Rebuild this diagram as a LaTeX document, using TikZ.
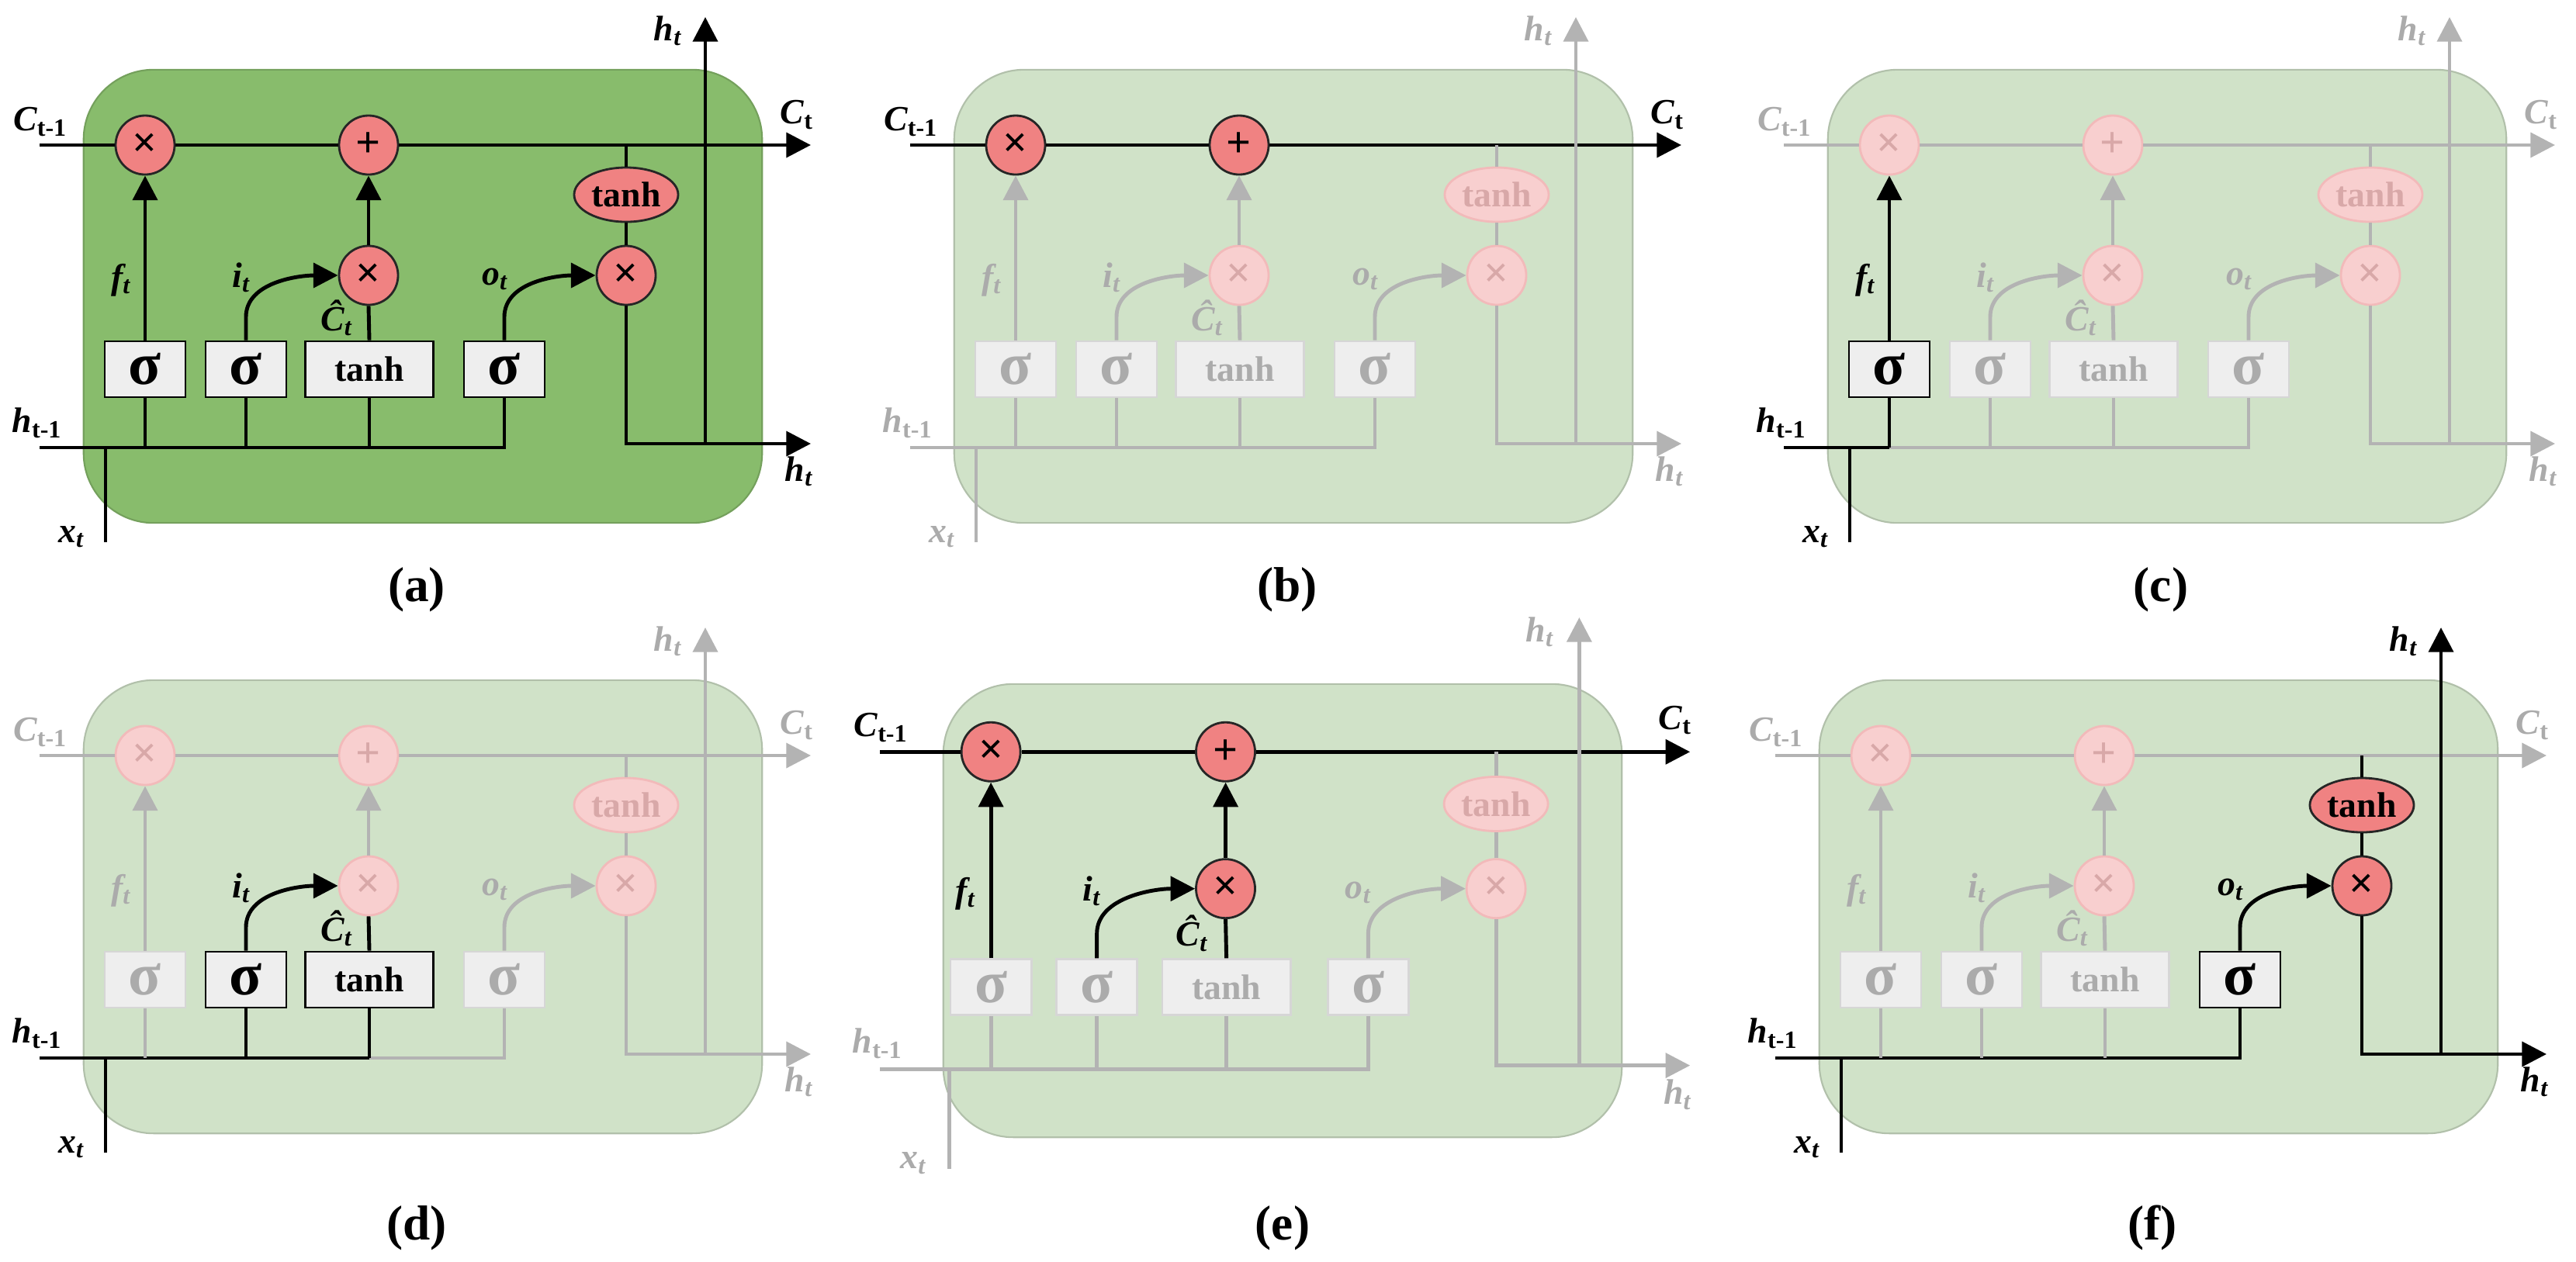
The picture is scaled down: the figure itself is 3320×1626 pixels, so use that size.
\documentclass[tikz,border=0pt]{standalone}
\usepackage{fontspec}
\setmainfont{Liberation Serif}
\usetikzlibrary{arrows.meta,shapes.geometric}
\definecolor{darkbg}{HTML}{88BC6C}
\definecolor{lightbg}{HTML}{D0E2C8}
\definecolor{redc}{HTML}{F08282}
\definecolor{pinkc}{HTML}{F8CFCF}
\definecolor{pinkd}{HTML}{F2BABA}
\definecolor{pinkt}{HTML}{D8A8A8}
\definecolor{fadeg}{HTML}{B3B3B3}
\definecolor{fadet}{HTML}{ABABAB}
\definecolor{boxf}{HTML}{EEEEEE}
\definecolor{boxd}{HTML}{D6D6D6}
\tikzset{
 st/.code 2 args={\ifnum\csname on@#1\endcsname=1 \pgfkeysalso{#2on}\else\pgfkeysalso{#2off}\fi},
 lon/.style={draw=black}, loff/.style={draw=fadeg},
 ton/.style={text=black}, toff/.style={text=fadet},
 con/.style={fill=redc,draw=black!85,text=black}, coff/.style={fill=pinkc,draw=pinkd,text=pinkt},
 bon/.style={fill=boxf,draw=black,text=black}, boff/.style={fill=boxf,draw=boxd,text=fadet},
 ln/.style={line width=1.4pt},
 arr/.style={-{Triangle[length=9pt,width=9pt]}},
 circ/.style={circle,minimum size=0.76cm,inner sep=0pt,line width=0.8pt,font=\fontsize{16}{16}\selectfont\bfseries},
 ell/.style={ellipse,minimum width=1.34cm,minimum height=0.7cm,inner sep=0pt,line width=0.8pt,font=\fontsize{13}{13}\selectfont\bfseries},
 box/.style={rectangle,minimum width=1.04cm,minimum height=0.72cm,inner sep=0pt,line width=0.8pt,font=\fontsize{22}{22}\selectfont\bfseries},
 tbox/.style={box,minimum width=1.65cm,font=\fontsize{13}{13}\selectfont\bfseries},
 lab/.style={inner sep=0pt,font=\fontsize{13}{13}\selectfont\bfseries},
 plab/.style={inner sep=0pt,font=\fontsize{18}{18}\selectfont\bfseries},
}
\newcommand\setact[1]{%
 \foreach \e in {C,mf,ma,fa,s1,s2,th,s3,ia,mi,ca,up,oa,mo,te,ho,h1,h2,h3,h4}{\expandafter\gdef\csname on@\e\endcsname{0}}%
 \foreach \e in {#1}{\expandafter\gdef\csname on@\e\endcsname{1}}}
\newcommand\panel[3]{%
\setact{#3}%
\begin{scope}[#1]
 \node[rectangle,rounded corners=0.9cm,minimum width=8.74cm,minimum height=5.84cm,fill=#2,draw=#2!85!black,line width=0.6pt] (bg) at (545,382) {};
 \coordinate (cl) at (51,187); \coordinate (cr) at (1045,187);
 \coordinate (hl) at (51,577); \coordinate (j1) at (187,577); \coordinate (j2) at (317,577);
 \coordinate (j3) at (476,577); \coordinate (j4) at (650,577);
 \coordinate (xb) at (136,699); \coordinate (xj) at (136,577);
 \coordinate (ct) at (807,187); \coordinate (hb) at (807,572); \coordinate (hv) at (909,572);
 \coordinate (hr) at (1045,572); \coordinate (ht) at (909,22);
 \node[circ,st={mf}{c}] (mf) at (187,187) {×};
 \node[circ,st={ma}{c}] (ma) at (475,187) {+};
 \node[circ,st={mi}{c}] (mi) at (475,355) {×};
 \node[circ,st={mo}{c}] (mo) at (807,355) {×};
 \node[ell,st={te}{c}] (te) at (807,251) {tanh};
 \node[box,st={s1}{b}] (s1) at (187,476) {σ};
 \node[box,st={s2}{b}] (s2) at (317,476) {σ};
 \node[tbox,st={th}{b}] (th) at (476,476) {tanh};
 \node[box,st={s3}{b}] (s3) at (650,476) {σ};
 % cell state
 \draw[ln,st={C}{l}] (cl) -- (mf.west);
 \draw[ln,st={C}{l}] (mf.east) -- (ma.west);
 \draw[ln,arr,st={C}{l}] (ma.east) -- (cr);
 % hidden input
 \draw[ln,st={h1}{l}] (hl) -- (j1);
 \draw[ln,st={h1}{l}] (xb) -- (xj);
 \draw[ln,st={h2}{l}] (j1) -- (j2);
 \draw[ln,st={h3}{l}] (j2) -- (j3);
 \draw[ln,st={h4}{l}] (j3) -- (j4) -- (s3.south);
 \draw[ln,st={s1}{l}] (s1.south) -- (j1);
 \draw[ln,st={s2}{l}] (s2.south) -- (j2);
 \draw[ln,st={th}{l}] (th.south) -- (j3);
 % gates
 \draw[ln,arr,st={fa}{l}] (s1.north) -- (mf.south);
 \draw[ln,st={ca}{l}] (th.north) -- (mi.south);
 \draw[ln,arr,st={up}{l}] (mi.north) -- (ma.south);
 \draw[ln,arr,st={ia}{l}] (s2.north) -- ++(0,-30) .. controls +(0,-45) and +(-50,0) .. (mi.west);
 \draw[ln,arr,st={oa}{l}] (s3.north) -- ++(0,-30) .. controls +(0,-45) and +(-50,0) .. (mo.west);
 \draw[ln,st={te}{l}] (mo.north) -- (te.south);
 \draw[ln,st={te}{l}] (te.north) -- (ct);
 % output
 \draw[ln,st={ho}{l}] (mo.south) -- (hb) -- (hv);
 \draw[ln,arr,st={ho}{l}] (hv) -- (hr);
 \draw[ln,arr,st={ho}{l}] (hv) -- (ht);
 % labels
 \node[lab,st={C}{t}] (lc) at (52,157) {\textit{C}\textsubscript{t-1}};
 \node[lab,st={C}{t}] (lcr) at (1027,148) {\textit{C}\textsubscript{t}};
 \node[lab,st={h1}{t}] (lh) at (48,545) {\textit{h}\textsubscript{t-1}};
 \node[lab,st={h1}{t}] (lx) at (92,692) {\textit{x\textsubscript{t}}};
 \node[lab,st={fa}{t}] (lf) at (156,361) {\textit{f\textsubscript{t}}};
 \node[lab,st={ia}{t}] (li) at (311,358) {\textit{i\textsubscript{t}}};
 \node[lab,st={oa}{t}] (lo) at (638,360) {\textit{o\textsubscript{t}}};
 \node[lab,st={ca}{t}] (lct) at (434,410) {\textit{Ĉ\textsubscript{t}}};
 \node[lab,st={ho}{t}] (lht) at (861,40) {\textit{h\textsubscript{t}}};
 \node[lab,st={ho}{t}] (lhr) at (1030,608) {\textit{h\textsubscript{t}}};
\end{scope}}
\begin{document}
\begin{tikzpicture}[x=0.01cm,y=-0.01cm]
\useasboundingbox[fill=white] (0,0) rectangle (3320,1626);
\panel{}{darkbg}{C,mf,ma,fa,s1,s2,th,s3,ia,mi,ca,up,oa,mo,te,ho,h1,h2,h3,h4}
\panel{shift={(1122,0)}}{lightbg}{C,mf,ma}
\panel{shift={(2248,0)}}{lightbg}{s1,fa,h1}
\panel{shift={(0,787)}}{lightbg}{s2,th,ia,ca,h1,h2,h3}
\panel{shift={(1653,1174)},scale=1.05,shift={(-545,-382)}}{lightbg}{C,mf,ma,fa,ia,mi,ca,up}
\panel{shift={(2237,787)}}{lightbg}{s3,oa,mo,te,ho,h1,h2,h3,h4}
\node[plab] (pa) at (537,760) {(a)};
\node[plab] (pb) at (1659,760) {(b)};
\node[plab] (pc) at (2785,760) {(c)};
\node[plab] (pd) at (537,1583) {(d)};
\node[plab] (pe) at (1653,1583) {(e)};
\node[plab] (pf) at (2774,1583) {(f)};
\end{tikzpicture}
\end{document}
